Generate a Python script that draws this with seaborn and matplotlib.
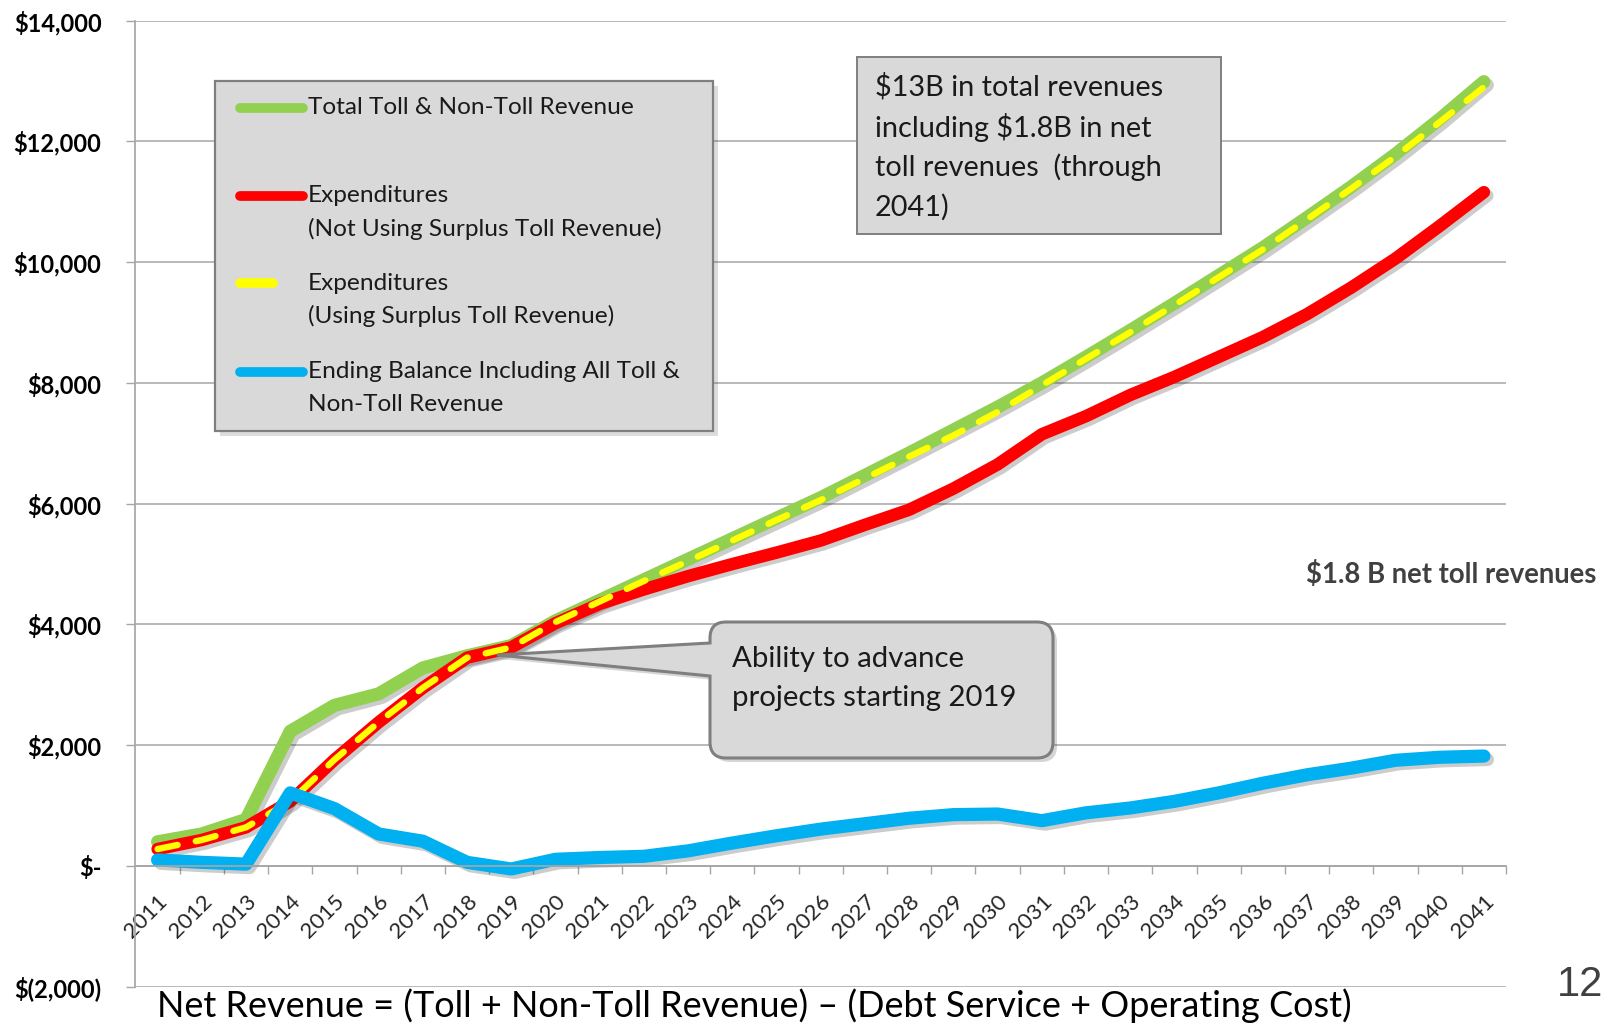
import matplotlib
matplotlib.use('Agg')
import matplotlib.pyplot as plt
import matplotlib.transforms as mtransforms
import seaborn as sns
from matplotlib import patheffects as pe
from matplotlib.patches import Rectangle, PathPatch
from matplotlib.path import Path
from matplotlib.lines import Line2D

# values in $ millions
years = list(range(2011, 2042))
total_revenue = [400, 530, 770, 2230, 2660, 2850, 3280, 3480, 3650, 4060,
                 4400, 4740, 5080, 5420, 5760, 6100, 6470, 6840, 7220, 7600,
                 8000, 8430, 8870, 9320, 9780, 10240, 10740, 11250, 11790, 12370,
                 12990]
exp_no_surplus = [280, 430, 640, 1070, 1760, 2380, 2950, 3450, 3620, 4020,
                  4340, 4580, 4800, 5000, 5190, 5390, 5650, 5900, 6250, 6650,
                  7150, 7450, 7800, 8100, 8430, 8760, 9140, 9580, 10060, 10600,
                  11160]
exp_surplus = [280, 430, 640, 1070, 1760, 2380, 2950, 3450, 3620, 4040,
               4380, 4720, 5050, 5390, 5730, 6060, 6420, 6780, 7130, 7520,
               7960, 8400, 8840, 9290, 9750, 10210, 10710, 11220, 11750, 12320,
               12900]
ending_balance = [100, 60, 30, 1210, 950, 530, 410, 60, -50, 110,
                  140, 160, 250, 380, 500, 610, 700, 790, 850, 860,
                  750, 880, 960, 1070, 1210, 1370, 1510, 1620, 1750, 1800,
                  1820]

y_ticks = [-2000, 0, 2000, 4000, 6000, 8000, 10000, 12000, 14000]
y_tick_labels = ['$(2,000)', '$-', '$2,000', '$4,000', '$6,000', '$8,000',
                 '$10,000', '$12,000', '$14,000']

series_colors = ['#92D050', '#FF0000', '#FFFF00', '#00B0F0']
legend_lines = [['Total Toll & Non-Toll Revenue'],
                ['Expenditures', '(Not Using Surplus Toll Revenue)'],
                ['Expenditures', '(Using Surplus Toll Revenue)'],
                ['Ending Balance Including All Toll &', 'Non-Toll Revenue']]
box_lines = ['$13B in total revenues', 'including $1.8B in net',
             'toll revenues  (through', '2041)']
callout_lines = ['Ability to advance', 'projects starting 2019']
side_note = '$1.8 B net toll revenues'
caption = 'Net Revenue = (Toll + Non-Toll Revenue) \u2013 (Debt Service + Operating Cost)'
page_no = '12'

sns.set_theme(style='white')
plt.rcParams['font.family'] = ['Lato', 'DejaVu Sans']
plt.rcParams['xtick.labelsize'] = 16
plt.rcParams['ytick.labelsize'] = 17
plt.rcParams['xtick.color'] = '#262626'

W, H = 1608, 1026
grid_c = '#A6A6A6'
fig = plt.figure(figsize=(W / 100, H / 100), dpi=100)
ax = fig.add_axes([135.5 / W, 1 - 986.7 / H, (1506 - 135.5) / W, (986.7 - 20.7) / H])


def P(x, y):
    # pixel position (from top-left) -> figure fraction
    return (x / W, 1 - y / H)


shadow = [pe.SimpleLineShadow(offset=(2.5, -2.5), shadow_color='k', alpha=0.22), pe.Normal()]
round_kw = dict(solid_capstyle='round', solid_joinstyle='round')

sns.lineplot(x=years, y=total_revenue, ax=ax, color=series_colors[0], lw=9.5,
             path_effects=shadow, **round_kw)
sns.lineplot(x=years, y=exp_no_surplus, ax=ax, color=series_colors[1], lw=9.0,
             path_effects=shadow, **round_kw)
sns.lineplot(x=years, y=exp_surplus, ax=ax, color=series_colors[2], lw=4.6, **round_kw)
ax.lines[-1].set_dashes([3.2, 2.9])
ax.lines[-1].set_dash_capstyle('round')
sns.lineplot(x=years, y=ending_balance, ax=ax, color=series_colors[3], lw=9.5,
             path_effects=shadow, **round_kw)

# axes (spine moved first: moving it resets the ticks)
ax.spines['bottom'].set_position(('data', 0))
ax.spines['bottom'].set_color(grid_c)
ax.spines['left'].set_color(grid_c)
ax.spines[['top', 'right']].set_visible(False)
ax.set_xlim(2010.5, 2041.5)
ax.set_ylim(-2000, 14000)
ax.tick_params(axis='x', which='major', bottom=True, length=0, pad=23,
               labelsize=16, labelrotation=45, labelcolor='#262626')
ax.tick_params(axis='x', which='minor', bottom=True, length=6, width=1, color=grid_c)
ax.tick_params(axis='y', left=True, length=6.5, width=1, color=grid_c, pad=18,
               labelsize=17, labelcolor='black')
ax.set_yticks(y_ticks)
ax.set_yticklabels(y_tick_labels, fontweight='bold')
ax.set_xticks(years)
ax.set_xticklabels([str(y) for y in years])
ax.set_xticks([y + 0.5 for y in years], minor=True)
ax.grid(axis='y', color=grid_c, lw=1.1)
ax.grid(axis='x', visible=False)
ax.set_xlabel('')
ax.set_ylabel('')
nudge = mtransforms.ScaledTranslation(5 / 72, 0, fig.dpi_scale_trans)
for lab in ax.get_xticklabels():
    lab.set_horizontalalignment('right')
    lab.set_verticalalignment('center')
    lab.set_rotation_mode('anchor')
    lab.set_transform(lab.get_transform() + nudge)

# legend box (drawn by hand to keep the two-line layout)
lx0, ly0, lx1, ly1 = 215, 81, 713, 431
fig.add_artist(Rectangle(P(lx0 + 5, ly1 + 5), (lx1 - lx0) / W, (ly1 - ly0) / H,
                         transform=fig.transFigure, facecolor='k', alpha=0.15,
                         edgecolor='none', zorder=4))
fig.add_artist(Rectangle(P(lx0, ly1), (lx1 - lx0) / W, (ly1 - ly0) / H,
                         transform=fig.transFigure, facecolor='#D9D9D9',
                         edgecolor='#7F7F7F', lw=1.6, zorder=5))
row_y = [108, 196, 283, 372]
for i, (lines, yy) in enumerate(zip(legend_lines, row_y)):
    x_end = 273 if i == 2 else 303
    fig.add_artist(Line2D([240 / W, x_end / W], [1 - yy / H] * 2, transform=fig.transFigure,
                          color=series_colors[i], lw=7, solid_capstyle='round', zorder=6))
    for j, txt in enumerate(lines):
        fig.text(308 / W, 1 - (yy + 32.5 * j) / H, txt, fontsize=17.6, va='center',
                 ha='left', color='#1a1a1a', zorder=7)

# summary text box
bx0, by0, bx1, by1 = 857, 57, 1221, 234
fig.add_artist(Rectangle(P(bx0, by1), (bx1 - bx0) / W, (by1 - by0) / H,
                         transform=fig.transFigure, facecolor='#D9D9D9',
                         edgecolor='#7F7F7F', lw=1.4, zorder=5))
for j, txt in enumerate(box_lines):
    fig.text(875 / W, 1 - (87 + 40 * j) / H, txt, fontsize=20.8, va='center', ha='left',
             color='#1a1a1a', parse_math=False, zorder=7)

# callout with pointer
x0, y0, x1, y1, r = 710, 622, 1053, 758, 16
tip, att_top, att_bot = (497, 655), 643, 676
pts = [((x0 + r, y0), Path.MOVETO), ((x1 - r, y0), Path.LINETO),
       ((x1, y0), Path.CURVE3), ((x1, y0 + r), Path.CURVE3),
       ((x1, y1 - r), Path.LINETO),
       ((x1, y1), Path.CURVE3), ((x1 - r, y1), Path.CURVE3),
       ((x0 + r, y1), Path.LINETO),
       ((x0, y1), Path.CURVE3), ((x0, y1 - r), Path.CURVE3),
       ((x0, att_bot), Path.LINETO), (tip, Path.LINETO), ((x0, att_top), Path.LINETO),
       ((x0, y0 + r), Path.LINETO),
       ((x0, y0), Path.CURVE3), ((x0 + r, y0), Path.CURVE3),
       ((x0 + r, y0), Path.CLOSEPOLY)]


def callout_path(dx=0, dy=0):
    verts = [P(x + dx, y + dy) for (x, y), _ in pts]
    return Path(verts, [c for _, c in pts])


fig.add_artist(PathPatch(callout_path(4, 4), transform=fig.transFigure, facecolor='k',
                         alpha=0.18, edgecolor='none', zorder=4))
fig.add_artist(PathPatch(callout_path(), transform=fig.transFigure, facecolor='#D9D9D9',
                         edgecolor='#7F7F7F', lw=2.2, zorder=5))
for j, txt in enumerate(callout_lines):
    fig.text(732 / W, 1 - (659 + 39 * j) / H, txt, fontsize=21.2, va='center', ha='left',
             color='#1a1a1a', zorder=7)

fig.text(1306 / W, 1 - 574 / H, side_note, fontsize=19.8, fontweight='bold',
         color='#404040', va='center', ha='left')
fig.text(157 / W, 1 - 1006 / H, caption, fontsize=25.9, va='center', ha='left', color='black')
fig.text(1603 / W, 1 - 985 / H, page_no, fontsize=30, va='center', ha='right',
         family='Liberation Sans', color='#404040')

fig.savefig('out.png', dpi=100, facecolor='white')
